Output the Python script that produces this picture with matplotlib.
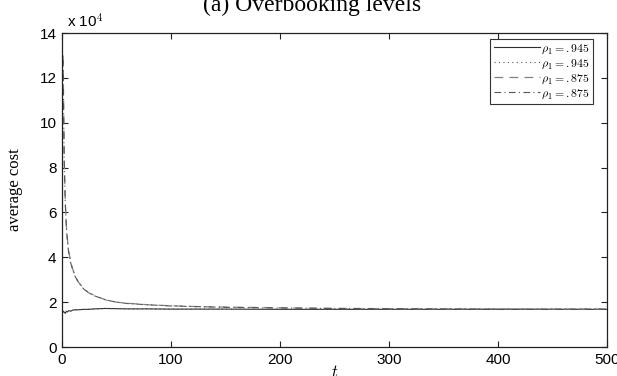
import matplotlib.pyplot as plt

# --- Data (average cost in units of 10^4) ---
t = [1, 2, 3, 4, 5, 6, 8, 10, 12, 15, 20, 25, 30, 40, 50, 60, 80, 100,
     125, 150, 200, 250, 300, 350, 400, 450, 500]

cost_945_solid = [1.60, 1.55, 1.50, 1.60, 1.56, 1.62, 1.60, 1.65, 1.66, 1.66, 1.68, 1.68,
                  1.70, 1.72, 1.71, 1.70, 1.70, 1.69, 1.69, 1.69, 1.68, 1.68, 1.68,
                  1.68, 1.68, 1.68, 1.68]
cost_945_dotted = [1.58, 1.52, 1.53, 1.58, 1.58, 1.60, 1.62, 1.64, 1.65, 1.67, 1.67, 1.69,
                   1.70, 1.71, 1.71, 1.70, 1.70, 1.69, 1.69, 1.68, 1.68, 1.68, 1.68,
                   1.68, 1.67, 1.68, 1.68]
cost_875_dashed = [13.0, 8.5, 6.5, 5.4, 4.8, 4.3, 3.8, 3.45, 3.2, 2.9, 2.6, 2.4, 2.3,
                   2.1, 2.0, 1.95, 1.88, 1.84, 1.80, 1.78, 1.75, 1.72, 1.71, 1.70,
                   1.70, 1.69, 1.69]
cost_875_dashdot = [12.8, 8.3, 6.4, 5.3, 4.7, 4.25, 3.75, 3.4, 3.15, 2.88, 2.58, 2.4, 2.28,
                    2.1, 2.0, 1.94, 1.88, 1.83, 1.80, 1.77, 1.74, 1.72, 1.71, 1.70,
                    1.69, 1.69, 1.69]

labels = [r"$\rho_1 = .945$", r"$\rho_1 = .945$", r"$\rho_1 = .875$", r"$\rho_1 = .875$"]
x_ticks = [0, 100, 200, 300, 400, 500]
y_ticks = [0, 2, 4, 6, 8, 10, 12, 14]

# --- Figure ---
plt.rcParams["mathtext.fontset"] = "cm"
plt.rcParams["font.family"] = "Liberation Sans"

fig = plt.figure(figsize=(6.17, 3.76), dpi=100)
ax = fig.add_axes([0.1005, 0.0771, 0.8833, 0.835])

ax.plot(t, cost_945_solid, color="#2e2e2e", lw=0.8, ls="-", label=labels[0])
ax.plot(t, cost_945_dotted, color="#555555", lw=0.8, ls=(0, (1, 3)), label=labels[1])
ax.plot(t, cost_875_dashed, color="#808080", lw=0.9, ls=(0, (7, 5)), label=labels[2])
ax.plot(t, cost_875_dashdot, color="#555555", lw=0.8, ls=(0, (6, 3, 1, 3)), label=labels[3])

ax.set_xlim(0, 500)
ax.set_ylim(0, 14)
ax.set_xticks(x_ticks)
ax.set_yticks(y_ticks)
ax.tick_params(direction="in", top=True, right=True, length=4, width=0.8,
               labelsize=11, pad=4, color="#222222")
for s in ax.spines.values():
    s.set_linewidth(0.9)
    s.set_color("#222222")

# exponent label, top left
ax.text(0.01, 1.008, "x 10$^{4}$", transform=ax.transAxes, fontsize=11,
        ha="left", va="bottom")

ax.set_ylabel("average cost", family="Liberation Serif", fontsize=12, labelpad=12)
ax.set_xlabel(r"$t$", fontsize=12, labelpad=-2)

fig.text(0.505, 0.971, "(a) Overbooking levels", family="Liberation Serif",
         fontsize=17, ha="center", va="baseline")

leg = ax.legend(loc="upper right", bbox_to_anchor=(0.975, 0.982), fontsize=8.5,
                handlelength=3.9, handletextpad=0.1, labelspacing=0.15,
                borderpad=0.3, fancybox=False, framealpha=1, borderaxespad=0)
leg.get_frame().set_edgecolor("#333333")
leg.get_frame().set_linewidth(0.8)

plt.savefig("out.png", dpi=100)
plt.close()
